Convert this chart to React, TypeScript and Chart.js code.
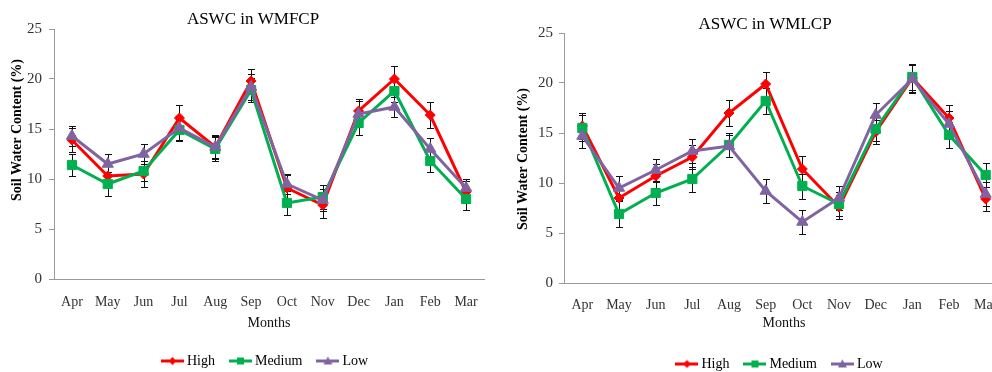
import React, { useEffect, useRef } from "react";
import { Chart, registerables } from "chart.js";

Chart.register(...registerables);

// ---------- data ----------
const months = ["Apr", "May", "Jun", "Jul", "Aug", "Sep", "Oct", "Nov", "Dec", "Jan", "Feb", "Mar"];
const seriesNames = ["High", "Medium", "Low"];
const yTickValues = [0, 5, 10, 15, 20, 25];

// ASWC in WMFCP
const wmfcpHigh = [13.9, 10.3, 10.5, 16.1, 13.2, 19.8, 9.1, 7.4, 16.8, 20.0, 16.4, 8.7];
const wmfcpMedium = [11.4, 9.5, 10.8, 14.9, 13.0, 18.9, 7.6, 8.2, 15.6, 18.8, 11.8, 8.0];
const wmfcpLow = [14.3, 11.5, 12.5, 15.1, 13.2, 19.2, 9.5, 7.9, 16.5, 17.2, 13.0, 9.1];
const wmfcpHighErr = [1.2, 1.1, 1.3, 1.3, 1.1, 1.2, 1.3, 1.3, 1.2, 1.3, 1.3, 1.1];
const wmfcpMediumErr = [1.1, 1.2, 1.0, 1.1, 1.2, 1.2, 1.2, 1.2, 1.2, 1.1, 1.1, 1.1];
const wmfcpLowErr = [1.0, 1.0, 1.0, 1.2, 1.2, 1.3, 1.0, 1.1, 1.3, 1.0, 1.1, 0.9];

// ASWC in WMLCP
const wmlcpHigh = [15.7, 8.5, 10.7, 12.6, 17.0, 19.9, 11.4, 7.6, 15.1, 20.5, 16.5, 8.4];
const wmlcpMedium = [15.5, 6.9, 9.0, 10.4, 13.8, 18.2, 9.7, 7.9, 15.4, 20.6, 14.8, 10.8];
const wmlcpLow = [14.7, 9.5, 11.3, 13.2, 13.7, 9.2, 6.1, 8.5, 16.8, 20.4, 15.9, 8.9];
const wmlcpHighErr = [1.3, 1.2, 1.2, 1.2, 1.3, 1.25, 1.3, 1.2, 1.2, 1.4, 1.3, 1.2];
const wmlcpMediumErr = [1.3, 1.3, 1.2, 1.25, 1.2, 1.3, 1.25, 1.2, 1.2, 1.3, 1.3, 1.2];
const wmlcpLowErr = [1.2, 1.2, 1.15, 1.2, 1.1, 1.2, 1.2, 1.2, 1.2, 1.4, 1.3, 1.2];

const COLORS = ["#FF0000", "#00B050", "#8064A2"];
const STYLES = ["rectRot", "rect", "triangle"];
const RADII = [5, 6.5, 6.5];
const SERIF = "'Liberation Serif', 'Times New Roman', serif";

// ---------- plugins ----------
const errorBarPlugin = {
  id: "errorBars",
  beforeDatasetsDraw(chart: any, _args: any, opts: any) {
    const errs: number[][] = opts.errors || [];
    const ys = chart.scales.y;
    const ctx = chart.ctx;
    ctx.save();
    ctx.strokeStyle = "#111";
    ctx.lineWidth = 1;
    chart.data.datasets.forEach((ds: any, i: number) => {
      const meta = chart.getDatasetMeta(i);
      const e = errs[i];
      if (!e) return;
      meta.data.forEach((pt: any, j: number) => {
        const v = ds.data[j];
        const x = Math.round(pt.x) + 0.5;
        const top = Math.round(ys.getPixelForValue(v + e[j])) + 0.5;
        const bot = Math.round(ys.getPixelForValue(v - e[j])) + 0.5;
        ctx.beginPath();
        ctx.moveTo(x, top);
        ctx.lineTo(x, bot);
        ctx.moveTo(x - 3.5, top);
        ctx.lineTo(x + 3.5, top);
        ctx.moveTo(x - 3.5, bot);
        ctx.lineTo(x + 3.5, bot);
        ctx.stroke();
      });
    });
    ctx.restore();
  },
};

const textPlugin = {
  id: "customTexts",
  afterDraw(chart: any, _args: any, opts: any) {
    const ctx = chart.ctx;
    ctx.save();
    ctx.fillStyle = "#000";
    ctx.textAlign = "center";
    ctx.textBaseline = "middle";
    ctx.font = `17px ${SERIF}`;
    ctx.fillText(opts.title, opts.titleX, opts.titleY);
    ctx.translate(opts.yTitleX, opts.yTitleY);
    ctx.rotate(-Math.PI / 2);
    ctx.font = `bold 14px ${SERIF}`;
    ctx.fillText(opts.yTitle, 0, 0);
    ctx.restore();
  },
};

function makeLegendImage(i: number): HTMLCanvasElement {
  const c = document.createElement("canvas");
  c.width = 23;
  c.height = 11;
  const g = c.getContext("2d")!;
  g.strokeStyle = COLORS[i];
  g.fillStyle = COLORS[i];
  g.lineWidth = 3;
  g.beginPath();
  g.moveTo(0, 5.5);
  g.lineTo(23, 5.5);
  g.stroke();
  g.beginPath();
  if (i === 0) {
    g.moveTo(11.5, 1.5);
    g.lineTo(15.5, 5.5);
    g.lineTo(11.5, 9.5);
    g.lineTo(7.5, 5.5);
  } else if (i === 1) {
    g.rect(8, 2, 7, 7);
  } else {
    g.moveTo(11.5, 1);
    g.lineTo(16, 9);
    g.lineTo(7, 9);
  }
  g.closePath();
  g.fill();
  return c;
}

type ChartProps = {
  left: number;
  width: number;
  height: number;
  title: string;
  titleX: number;
  titleY: number;
  yTitleX: number;
  yTitleY: number;
  high: number[];
  medium: number[];
  low: number[];
  errors: number[][];
  yAxisWidth: number;
  rightWidth: number;
  xAxisHeight: number;
  padTop: number;
  xTickPad: number;
  yTickPad: number;
  xTitlePad: number;
};

function SWCChart(p: ChartProps) {
  const ref = useRef<HTMLCanvasElement | null>(null);
  useEffect(() => {
    if (!ref.current) return;
    const imgs = [0, 1, 2].map(makeLegendImage);
    const values = [p.high, p.medium, p.low];
    const chart = new Chart(ref.current, {
      type: "line",
      data: {
        labels: months,
        datasets: seriesNames.map((name, i) => ({
          label: name,
          data: values[i],
          yAxisID: "y",
          borderColor: COLORS[i],
          backgroundColor: COLORS[i],
          borderWidth: 3,
          pointStyle: STYLES[i] as any,
          pointRadius: RADII[i],
          pointHoverRadius: RADII[i],
          pointBorderWidth: 1,
          pointBackgroundColor: COLORS[i],
          pointBorderColor: COLORS[i],
          tension: 0,
          fill: false,
          order: 2 - i,
        })),
      },
      options: {
        responsive: false,
        animation: false,
        devicePixelRatio: 1,
        layout: { padding: { top: p.padTop, left: 0, right: 0, bottom: 0 } },
        plugins: {
          title: { display: false },
          tooltip: { enabled: false },
          legend: {
            display: true,
            position: "bottom",
            labels: {
              usePointStyle: true,
              pointStyleWidth: 15,
              padding: 18,
              color: "#000",
              font: { family: SERIF, size: 14 },
              generateLabels: (ch: any) =>
                ch.data.datasets.map((ds: any, i: number) => ({
                  text: ds.label,
                  pointStyle: imgs[i],
                  fillStyle: COLORS[i],
                  strokeStyle: COLORS[i],
                  lineWidth: 0,
                  hidden: false,
                  datasetIndex: i,
                  fontColor: "#000",
                })),
            },
          },
          errorBars: { errors: p.errors },
          customTexts: {
            title: p.title,
            titleX: p.titleX,
            titleY: p.titleY,
            yTitle: "Soil Water Content (%)",
            yTitleX: p.yTitleX,
            yTitleY: p.yTitleY,
          },
        } as any,
        scales: {
          x: {
            type: "category",
            offset: true,
            grid: { display: false, drawTicks: false, tickLength: 0 },
            border: { display: true, color: "#999999", width: 1 },
            ticks: {
              autoSkip: false,
              maxRotation: 0,
              padding: p.xTickPad,
              color: "#333",
              font: { family: SERIF, size: 14 },
            },
            title: {
              display: true,
              text: "Months",
              color: "#111",
              font: { family: SERIF, size: 14 },
              padding: { top: 0, bottom: p.xTitlePad },
            },
            afterFit: (s: any) => {
              s.height = p.xAxisHeight;
            },
          },
          y: {
            position: "left",
            min: 0,
            max: 25,
            afterBuildTicks: (s: any) => {
              s.ticks = yTickValues.map((v) => ({ value: v }));
            },
            grid: {
              display: true,
              drawOnChartArea: false,
              drawTicks: true,
              tickLength: 5,
              color: "#999999",
            },
            border: { display: true, color: "#999999", width: 1 },
            ticks: {
              padding: p.yTickPad,
              color: "#333",
              font: { family: SERIF, size: 15 },
            },
            afterFit: (s: any) => {
              s.width = p.yAxisWidth;
            },
          },
          y2: {
            position: "right",
            display: true,
            grid: { display: false, drawTicks: false },
            border: { display: false },
            ticks: { display: false },
            afterFit: (s: any) => {
              s.width = p.rightWidth;
            },
          },
        },
      },
      plugins: [errorBarPlugin, textPlugin],
    });
    return () => chart.destroy();
  }, []);
  return (
    <canvas
      ref={ref}
      width={p.width}
      height={p.height}
      style={{ position: "absolute", left: p.left, top: 0, width: p.width, height: p.height }}
    />
  );
}

export default function App() {
  return (
    <div
      style={{
        position: "fixed",
        left: 0,
        top: 0,
        width: 992,
        height: 372,
        overflow: "hidden",
        background: "#fff",
      }}
    >
      <SWCChart
        left={0}
        width={533}
        height={378}
        title="ASWC in WMFCP"
        titleX={253}
        titleY={20}
        yTitleX={17}
        yTitleY={130}
        high={wmfcpHigh}
        medium={wmfcpMedium}
        low={wmfcpLow}
        errors={[wmfcpHighErr, wmfcpMediumErr, wmfcpLowErr]}
        yAxisWidth={54}
        rightWidth={49}
        xAxisHeight={57}
        padTop={29}
        xTickPad={15}
        yTickPad={7}
        xTitlePad={4.6}
      />
      <SWCChart
        left={505}
        width={552}
        height={381}
        title="ASWC in WMLCP"
        titleX={260}
        titleY={25}
        yTitleX={18}
        yTitleY={159}
        high={wmlcpHigh}
        medium={wmlcpMedium}
        low={wmlcpLow}
        errors={[wmlcpHighErr, wmlcpMediumErr, wmlcpLowErr]}
        yAxisWidth={59}
        rightWidth={53}
        xAxisHeight={56}
        padTop={33}
        xTickPad={14}
        yTickPad={6}
        xTitlePad={7.6}
      />
    </div>
  );
}
